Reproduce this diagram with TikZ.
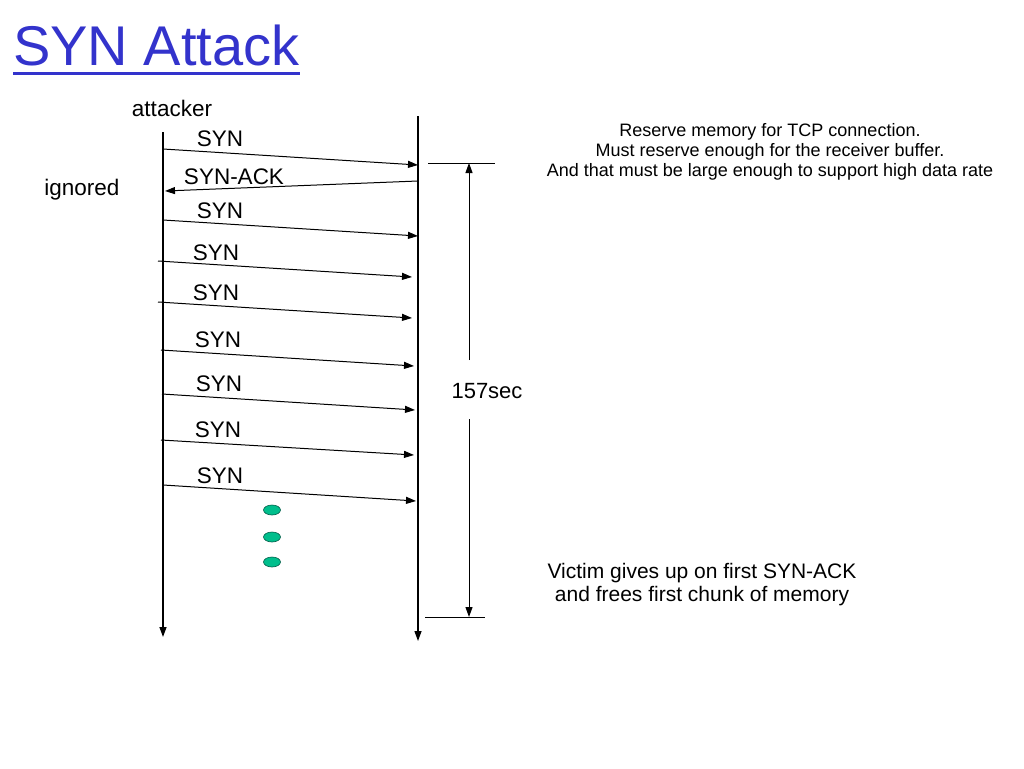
\documentclass[tikz,border=0pt]{standalone}
\usepackage{fontspec}
\setmainfont{Liberation Sans}
\usetikzlibrary{arrows.meta,shapes.geometric}
\definecolor{titleblue}{RGB}{51,51,204}
\definecolor{dotfill}{RGB}{0,190,140}
\definecolor{dotline}{RGB}{0,90,70}
\begin{document}
\begin{tikzpicture}[x=1pt,y=-1pt,
  msg/.style={line width=1pt,-{Triangle[length=10pt,width=7pt]}},
  tline/.style={line width=1.3pt,-{Triangle[length=10pt,width=7pt]}},
  lbl/.style={font=\fontsize{22.5}{26}\selectfont,inner sep=0pt},
  note/.style={font=\fontsize{18}{20}\selectfont,align=center,inner sep=0pt},
  dot/.style={ellipse,draw=dotline,fill=dotfill,line width=0.6pt,minimum width=17pt,minimum height=10pt,inner sep=0pt}]
\useasboundingbox (0,0) rectangle (1024,768);
% title
\node[anchor=base west,inner sep=0pt,text=titleblue,font=\fontsize{56}{60}\selectfont] (title) at (13,65) {SYN Attack};
\draw[titleblue,line width=3pt] ([yshift=-8pt]title.base west) -- ([yshift=-8pt]title.base east);
% actors
\node[lbl] (attacker) at (172,108) {attacker};
\node[lbl] (ignored) at (82,190) {ignored};
% timelines
\coordinate (Ltop) at (163,132);
\coordinate (Lbot) at (163,637);
\coordinate (Rtop) at (418,116);
\coordinate (Rbot) at (418,641);
\draw[tline] (Ltop) -- (Lbot);
\draw[tline] (Rtop) -- (Rbot);
% messages
\coordinate (s1) at (163,149); \coordinate (e1) at (418,165);
\coordinate (s2) at (418,181); \coordinate (e2) at (165,191);
\coordinate (s3) at (163,220); \coordinate (e3) at (418,236);
\coordinate (s4) at (158,261); \coordinate (e4) at (412,277);
\coordinate (s5) at (158,302); \coordinate (e5) at (412,318);
\coordinate (s6) at (161,350); \coordinate (e6) at (414,366);
\coordinate (s7) at (162,394); \coordinate (e7) at (415,410);
\coordinate (s8) at (161,440); \coordinate (e8) at (414,455);
\coordinate (s9) at (163,485); \coordinate (e9) at (416,501);
\foreach \i in {1,...,9}{\draw[msg] (s\i) -- (e\i);}
\node[lbl] (l1) at (220,139) {SYN};
\node[lbl] (l2) at (234,177) {SYN-ACK};
\node[lbl] (l3) at (220,211) {SYN};
\node[lbl] (l4) at (216,253) {SYN};
\node[lbl] (l5) at (216,293) {SYN};
\node[lbl] (l6) at (218,340) {SYN};
\node[lbl] (l7) at (219,384) {SYN};
\node[lbl] (l8) at (218,430) {SYN};
\node[lbl] (l9) at (220,476) {SYN};
% dots
\node[dot] (d1) at (272,510) {};
\node[dot] (d2) at (272,537) {};
\node[dot] (d3) at (272,562) {};
% dimension
\coordinate (tk1a) at (428,163); \coordinate (tk1b) at (495,163);
\coordinate (tk2a) at (425,617); \coordinate (tk2b) at (485,617);
\draw[line width=1pt] (tk1a) -- (tk1b);
\draw[line width=1pt] (tk2a) -- (tk2b);
\coordinate (dtop) at (469,163); \coordinate (dup) at (469,360);
\coordinate (ddown) at (469,419); \coordinate (dbot) at (469,617);
\draw[msg] (dup) -- (dtop);
\draw[msg] (ddown) -- (dbot);
\node[lbl,font=\fontsize{22}{26}\selectfont] (sec) at (487,391) {157sec};
% notes
\node[note] (reserve) at (770,152) {Reserve memory for TCP connection.\\Must reserve enough for the receiver buffer.\\And that must be large enough to support high data rate};
\node[note,font=\fontsize{21}{23}\selectfont] (victim) at (702,585) {Victim gives up on first SYN-ACK\\and frees first chunk of memory};
\end{tikzpicture}
\end{document}
